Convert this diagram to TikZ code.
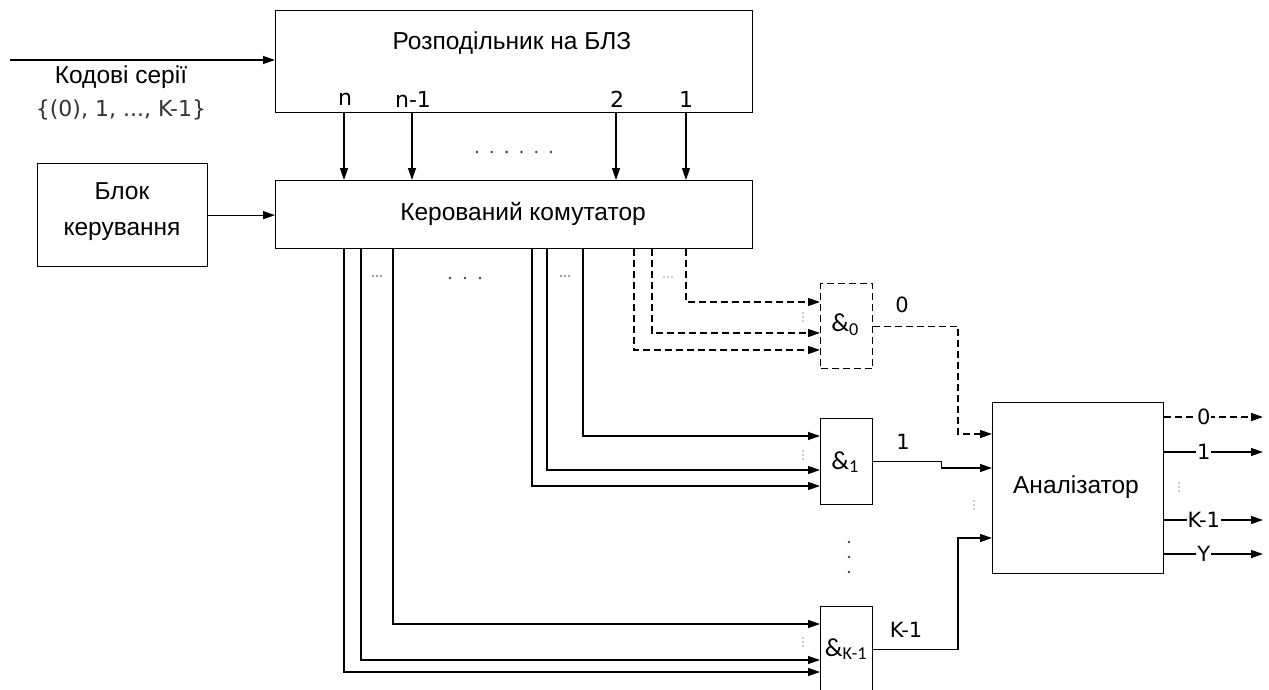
\documentclass[tikz,border=0pt]{standalone}
\usepackage{fontspec}
\setmainfont{Liberation Sans}
\newfontfamily\calfont{Carlito}
\newfontfamily\djfont{DejaVu Sans}
\usetikzlibrary{arrows.meta,calc}
\begin{document}
\begin{tikzpicture}[x=1pt,y=-1pt,
  box/.style={draw, line width=1.3pt, inner sep=0pt, anchor=north west},
  ln/.style={line width=1.3pt},
  arr/.style={line width=1.3pt, -{Triangle[length=12pt,width=8pt]}},
  dsh/.style={dash pattern=on 7pt off 4pt},
  txt/.style={inner sep=0pt, font=\fontsize{24.5}{36}\selectfont, align=center},
  lbl/.style={inner sep=1pt, font=\djfont\fontsize{21}{24}\selectfont},
  tlbl/.style={inner sep=0pt, font=\djfont\fontsize{22}{24}\selectfont},
  gtxt/.style={inner sep=0pt, font=\calfont\fontsize{26}{28}\selectfont},
  dot/.style={fill=black!75},
  gdot/.style={fill=black!40}
]
\useasboundingbox (0,0) rectangle (1269,690);
\clip (0,0) rectangle (1269,690);

% blocks
\node[box, minimum width=477pt, minimum height=102pt] (dist) at (275,10) {};
\node[txt] (distT) at (512,43) {Розподільник на БЛЗ};
\node[box, minimum width=477pt, minimum height=68pt] (comm) at (275,180) {};
\node[txt] (commT) at (523,214) {Керований комутатор};
\node[box, minimum width=170pt, minimum height=103pt] (ctrl) at (37,163) {};
\node[txt] (ctrlT) at (122,212) {Блок\\керування};
\node[box, minimum width=52pt, minimum height=85pt, dsh] (g0) at (820,283) {};
\node[gtxt] (g0T) at (845,325) {\&\textsubscript{0}};
\node[box, minimum width=52pt, minimum height=86pt] (g1) at (820,418) {};
\node[gtxt] (g1T) at (845,462) {\&\textsubscript{1}};
\node[box, minimum width=52pt, minimum height=86pt] (gK) at (820,606) {};
\node[gtxt] (gKT) at (846,649) {\&\textsubscript{K-1}};
\node[box, minimum width=171pt, minimum height=171pt] (an) at (992,402) {};
\node[txt] (anT) at (1076,487) {Аналізатор};

% input
\coordinate (inS) at (10,60);
\draw[arr] (inS) -- (inS -| dist.west);
\node[txt] (inT1) at (121,77) {Кодові серії};
\node[tlbl, text=black!80] (inT2) at (121,110) {\{(0), 1, ..., K-1\}};

% distributor outputs
\node[tlbl] (ln) at (345,99) {n};
\node[tlbl] (ln1) at (413,99) {n-1};
\node[tlbl] (l2) at (617,99) {2};
\node[tlbl] (l1) at (686,99) {1};
\foreach \c/\xx in {ln/344, ln1/412, l2/616, l1/686}{
  \coordinate (t\c) at (\xx,0);
  \draw[arr] (dist.south -| t\c) -- (comm.north -| t\c);
}
\foreach \i in {0,...,5} \fill[dot] (477+14.8*\i,152) circle (1.4pt);

% control
\draw[arr] (ctrl.east) -- (ctrl.east -| comm.west);

% commutator -> gates
\coordinate (k1) at (344,672); \coordinate (k2) at (361,660); \coordinate (k3) at (393,624);
\coordinate (m1) at (532,486); \coordinate (m2) at (547,470); \coordinate (m3) at (583,436);
\coordinate (z1) at (634,350); \coordinate (z2) at (652,333); \coordinate (z3) at (686,302);
\foreach \p in {k1,k2,k3}{\draw[arr] (comm.south -| \p) |- (gK.west |- \p);}
\foreach \p in {m1,m2,m3}{\draw[arr] (comm.south -| \p) |- (g1.west |- \p);}
\foreach \p in {z1,z2,z3}{\draw[arr,dsh] (comm.south -| \p) |- (g0.west |- \p);}

% small dots
\foreach \i in {-1,0,1}{
  \fill[dot] (377+4*\i,276) circle (0.9pt);
  \fill[dot] (565+4*\i,276) circle (0.9pt);
  \fill[gdot] (668+4*\i,277) circle (0.9pt);
  \fill[gdot] (803,317+4*\i) circle (0.8pt);
  \fill[gdot] (803,455+4*\i) circle (0.8pt);
  \fill[gdot] (803,642+4*\i) circle (0.8pt);
  \fill[gdot] (974,505+4*\i) circle (0.8pt);
  \fill[gdot] (1179,487+4*\i) circle (0.8pt);
  \fill[dot] (465+15*\i,278) circle (1.4pt);
  \fill[dot] (849,557+15*\i) circle (1.4pt);
}

% gates -> analyzer
\coordinate (a0) at (992,434); \coordinate (a1) at (992,468); \coordinate (aK) at (992,538);
\draw[arr,dsh] (g0.east) -| ([xshift=-34pt]a0) -- (a0);
\draw[arr] (g1.east) -- ++(68,0) |- (a1);
\draw[arr] (gK.east) -| ([xshift=-34pt]aK) -- (aK);
\node[lbl] (o0l) at (902,305) {0};
\node[lbl] (o1l) at (903,442) {1};
\node[lbl] (oKl) at (906,630) {K-1};

% analyzer outputs
\coordinate (r0) at (1263,417); \coordinate (r1) at (1263,452);
\coordinate (rK) at (1263,520); \coordinate (rY) at (1263,554);
\draw[arr,dsh] (an.east |- r0) -- node[lbl, fill=white, pos=0.4] {0} (r0);
\draw[arr] (an.east |- r1) -- node[lbl, fill=white, pos=0.4] {1} (r1);
\draw[arr] (an.east |- rK) -- node[lbl, fill=white, pos=0.4] {K-1} (rK);
\draw[arr] (an.east |- rY) -- node[lbl, fill=white, pos=0.4] {Y} (rY);
\end{tikzpicture}
\end{document}
